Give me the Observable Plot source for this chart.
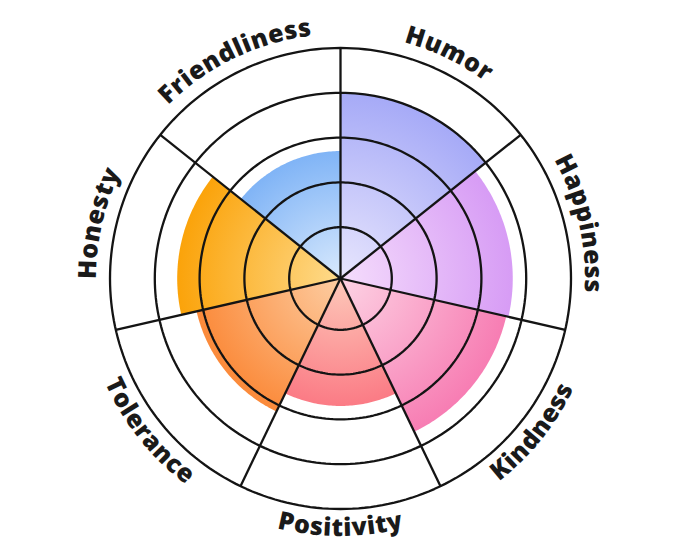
<!DOCTYPE html>
<html><head><meta charset="utf-8">
<script src="https://cdn.jsdelivr.net/npm/d3@7"></script>
<script src="https://cdn.jsdelivr.net/npm/@observablehq/plot@0.6"></script>
<style>html,body{margin:0;padding:0;background:#fff;} #chart svg{display:block;}</style>
</head><body><div id="chart"></div>
<script>
// ---- data ----
const categories = ["Humor", "Happiness", "Kindness", "Positivity", "Tolerance", "Honesty", "Friendliness"];
const values = [4.0, 3.7, 3.65, 2.7, 3.15, 3.5, 2.7];
const outerColors = ["#a6aaf7", "#d79cf5", "#f77db3", "#fb7b85", "#fb8a3a", "#fba30a", "#80b4f6"];
const innerColors = ["#e8e6fd", "#f5ddfc", "#fdd3e4", "#fdc9ba", "#fdcda2", "#fedb8c", "#d8e9fd"];
const rings = [1, 2, 3, 4, 5];

// ---- geometry helpers ----
const W = 680, H = 557;
const n = categories.length;
const step = 2 * Math.PI / n;
const radius = d3.scaleLinear().domain([0, 5]).range([6.5, 230.5]);
const polar = (a, r) => ({x: r * Math.sin(a), y: r * Math.cos(a)});

const sectorPts = [];
categories.forEach((c, i) => {
  const r = radius(values[i]);
  const a0 = i * step, a1 = (i + 1) * step;
  sectorPts.push({idx: i, ...polar(0, 0)});
  for (let k = 0; k <= 60; k++) sectorPts.push({idx: i, ...polar(a0 + (a1 - a0) * k / 60, r)});
  sectorPts.push({idx: i, ...polar(0, 0)});
});

const ringPts = [];
rings.forEach(k => {
  for (let j = 0; j <= 240; j++) ringPts.push({ring: k, ...polar(2 * Math.PI * j / 240, radius(k))});
});

const spokes = categories.map((c, i) => polar(i * step, radius(5)));
const labelRows = categories.map((c, i) => ({cat: c, idx: i, ...polar((i + 0.5) * step, radius(5) + 18)}));

const plot = Plot.plot({
  width: W, height: H,
  margin: 0,
  style: {background: "#fff"},
  x: {domain: [-340, 340], axis: null},
  y: {domain: [-279, 278], axis: null},
  color: {type: "identity"},
  marks: [
    Plot.line(sectorPts, {x: "x", y: "y", z: "idx", fill: d => `url(#grad-${d.idx})`, stroke: "none", curve: "linear"}),
    Plot.line(ringPts, {x: "x", y: "y", z: "ring", stroke: "#141414", strokeWidth: 2.3, fill: "none"}),
    Plot.link(spokes, {x1: 0, y1: 0, x2: "x", y2: "y", stroke: "#141414", strokeWidth: 2.3}),
    Plot.text(labelRows, {x: "x", y: "y", text: "cat", fontFamily: "Open Sans", fontWeight: 800, fontSize: 25, fill: "#1a1a1a"})
  ]
});

// ---- gradients & curved labels ----
let X, Y;
try { const sx = plot.scale("x"), sy = plot.scale("y"); X = v => sx.apply(v); Y = v => sy.apply(v); if (isNaN(X(0))) throw 0; }
catch (e) { X = v => (v + 340); Y = v => (278 - v); }
const cx = X(0), cy = Y(0);
const px = r => X(r) - cx;
const ns = "http://www.w3.org/2000/svg";
const defs = document.createElementNS(ns, "defs");
values.forEach((v, i) => {
  const g = document.createElementNS(ns, "radialGradient");
  g.setAttribute("id", "grad-" + i);
  g.setAttribute("gradientUnits", "userSpaceOnUse");
  g.setAttribute("cx", cx); g.setAttribute("cy", cy);
  g.setAttribute("r", px(radius(v)));
  [[0, innerColors[i]], [1, outerColors[i]]].forEach(([o, col]) => {
    const s = document.createElementNS(ns, "stop");
    s.setAttribute("offset", o); s.setAttribute("stop-color", col);
    g.appendChild(s);
  });
  defs.appendChild(g);
});
plot.insertBefore(defs, plot.firstChild);

const texts = plot.querySelectorAll('g[aria-label="text"] text');
texts.forEach((t, i) => {
  const m = (i + 0.5) * step;
  const bottom = m > Math.PI / 2 && m < 3 * Math.PI / 2;
  const R = px(radius(5)) + (bottom ? 27 : 14);
  const span = 85 * Math.PI / 180;
  const a0 = bottom ? m + span : m - span;
  const a1 = bottom ? m - span : m + span;
  const p = a => `${cx + R * Math.sin(a)},${cy - R * Math.cos(a)}`;
  const path = document.createElementNS(ns, "path");
  path.setAttribute("id", "lbl-" + i);
  path.setAttribute("d", `M${p(a0)} A${R},${R} 0 0 ${bottom ? 0 : 1} ${p(a1)}`);
  path.setAttribute("fill", "none");
  defs.appendChild(path);
  const label = t.textContent;
  t.textContent = "";
  t.removeAttribute("transform");
  t.removeAttribute("x"); t.removeAttribute("y");
  t.setAttribute("dy", "0");
  t.setAttribute("text-anchor", "middle");
  t.setAttribute("letter-spacing", "0.6");
  const tp = document.createElementNS(ns, "textPath");
  tp.setAttribute("href", "#lbl-" + i);
  tp.setAttributeNS("http://www.w3.org/1999/xlink", "xlink:href", "#lbl-" + i);
  tp.setAttribute("startOffset", "50%");
  tp.textContent = label;
  t.appendChild(tp);
});

document.getElementById("chart").appendChild(plot);
</script>
</body></html>
